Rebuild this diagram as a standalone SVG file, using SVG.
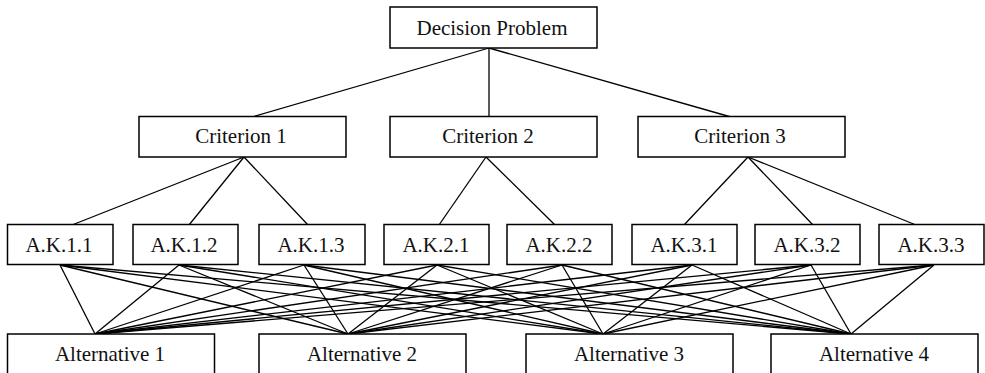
<svg xmlns="http://www.w3.org/2000/svg" width="985" height="373" viewBox="0 0 985 373">
<style>
.box{fill:#fff;stroke:#000;stroke-width:1.5}
.lbl{font-family:"Liberation Serif","Times New Roman",serif;font-size:21px;fill:#111;text-anchor:middle}
.edge{stroke:#000;stroke-width:1.3;fill:none}
</style>
<rect width="985" height="373" fill="#fff"/>
<g id="connectors">
<line class="edge" x1="489" y1="48" x2="252" y2="117"/>
<line class="edge" x1="489" y1="48" x2="489" y2="117"/>
<line class="edge" x1="489" y1="48" x2="731" y2="117"/>
<line class="edge" x1="244" y1="157" x2="72" y2="225"/>
<line class="edge" x1="244" y1="157" x2="189" y2="225"/>
<line class="edge" x1="244" y1="157" x2="308" y2="225"/>
<line class="edge" x1="486" y1="157" x2="439" y2="225"/>
<line class="edge" x1="486" y1="157" x2="555" y2="225"/>
<line class="edge" x1="748" y1="157" x2="684" y2="225"/>
<line class="edge" x1="748" y1="157" x2="813" y2="225"/>
<line class="edge" x1="748" y1="157" x2="916" y2="225"/>
<g id="ak-alt">
<line class="edge" x1="60" y1="265" x2="95" y2="334"/>
<line class="edge" x1="60" y1="265" x2="348" y2="334"/>
<line class="edge" x1="60" y1="265" x2="603" y2="334"/>
<line class="edge" x1="60" y1="265" x2="851" y2="334"/>
<line class="edge" x1="179" y1="265" x2="95" y2="334"/>
<line class="edge" x1="179" y1="265" x2="348" y2="334"/>
<line class="edge" x1="179" y1="265" x2="603" y2="334"/>
<line class="edge" x1="179" y1="265" x2="851" y2="334"/>
<line class="edge" x1="304" y1="265" x2="95" y2="334"/>
<line class="edge" x1="304" y1="265" x2="348" y2="334"/>
<line class="edge" x1="304" y1="265" x2="603" y2="334"/>
<line class="edge" x1="304" y1="265" x2="851" y2="334"/>
<line class="edge" x1="437" y1="265" x2="95" y2="334"/>
<line class="edge" x1="437" y1="265" x2="348" y2="334"/>
<line class="edge" x1="437" y1="265" x2="603" y2="334"/>
<line class="edge" x1="437" y1="265" x2="851" y2="334"/>
<line class="edge" x1="562" y1="265" x2="95" y2="334"/>
<line class="edge" x1="562" y1="265" x2="348" y2="334"/>
<line class="edge" x1="562" y1="265" x2="603" y2="334"/>
<line class="edge" x1="562" y1="265" x2="851" y2="334"/>
<line class="edge" x1="692" y1="265" x2="95" y2="334"/>
<line class="edge" x1="692" y1="265" x2="348" y2="334"/>
<line class="edge" x1="692" y1="265" x2="603" y2="334"/>
<line class="edge" x1="692" y1="265" x2="851" y2="334"/>
<line class="edge" x1="811" y1="265" x2="95" y2="334"/>
<line class="edge" x1="811" y1="265" x2="348" y2="334"/>
<line class="edge" x1="811" y1="265" x2="603" y2="334"/>
<line class="edge" x1="811" y1="265" x2="851" y2="334"/>
<line class="edge" x1="934" y1="265" x2="95" y2="334"/>
<line class="edge" x1="934" y1="265" x2="348" y2="334"/>
<line class="edge" x1="934" y1="265" x2="603" y2="334"/>
<line class="edge" x1="934" y1="265" x2="851" y2="334"/>
</g>
</g>
<g id="decision">
<rect class="box" x="390" y="7" width="207" height="41"/>
<text class="lbl" x="492" y="35">Decision Problem</text>
</g>
<g id="criterion1">
<rect class="box" x="139" y="116.5" width="207" height="40.5"/>
<text class="lbl" x="241" y="143">Criterion 1</text>
</g>
<g id="criterion2">
<rect class="box" x="390" y="116.5" width="207" height="40.5"/>
<text class="lbl" x="488" y="143">Criterion 2</text>
</g>
<g id="criterion3">
<rect class="box" x="638" y="116.5" width="207" height="40.5"/>
<text class="lbl" x="740" y="143">Criterion 3</text>
</g>
<g id="ak11"><rect class="box" x="7.5" y="224.5" width="105.5" height="40"/><text class="lbl" x="59" y="252">A.K.1.1</text></g>
<g id="ak12"><rect class="box" x="133" y="224.5" width="105" height="40"/><text class="lbl" x="184" y="252">A.K.1.2</text></g>
<g id="ak13"><rect class="box" x="259" y="224.5" width="106" height="40"/><text class="lbl" x="311" y="252">A.K.1.3</text></g>
<g id="ak21"><rect class="box" x="384" y="224.5" width="105" height="40"/><text class="lbl" x="436" y="252">A.K.2.1</text></g>
<g id="ak22"><rect class="box" x="507" y="224.5" width="105" height="40"/><text class="lbl" x="559" y="252">A.K.2.2</text></g>
<g id="ak31"><rect class="box" x="632" y="224.5" width="105" height="40"/><text class="lbl" x="684" y="252">A.K.3.1</text></g>
<g id="ak32"><rect class="box" x="755" y="224.5" width="105" height="40"/><text class="lbl" x="807" y="252">A.K.3.2</text></g>
<g id="ak33"><rect class="box" x="879" y="224.5" width="105" height="40"/><text class="lbl" x="931" y="252">A.K.3.3</text></g>
<g id="alt1"><rect class="box" x="7.5" y="334" width="207" height="50"/><text class="lbl" x="110" y="361">Alternative 1</text></g>
<g id="alt2"><rect class="box" x="259" y="334" width="207" height="50"/><text class="lbl" x="362" y="361">Alternative 2</text></g>
<g id="alt3"><rect class="box" x="526" y="334" width="207" height="50"/><text class="lbl" x="629" y="361">Alternative 3</text></g>
<g id="alt4"><rect class="box" x="771" y="334" width="207" height="50"/><text class="lbl" x="874" y="361">Alternative 4</text></g>
</svg>
